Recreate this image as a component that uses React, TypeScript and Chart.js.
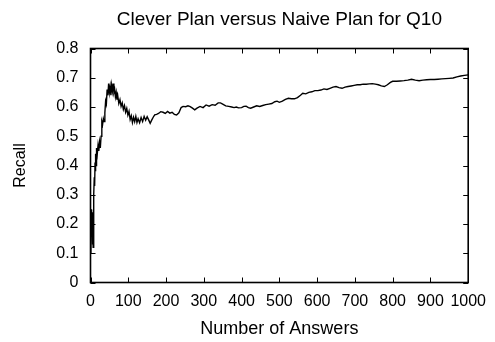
import React, { useEffect, useRef } from "react";
import { Chart, registerables } from "chart.js";

Chart.register(...registerables);

const chartTitle = "Clever Plan versus Naive Plan for Q10";
const xAxisTitle = "Number of Answers";
const yAxisTitle = "Recall";

const answers = [
  1, 2, 3, 4, 5, 6, 7, 8, 9, 10, 11, 12, 13, 14, 15, 16, 18, 20, 22, 24, 26, 28, 30, 32, 34, 36, 38, 40,
  42, 44, 46, 48, 50, 52, 54, 56, 58, 60, 62, 64, 66, 68, 70, 72, 75, 78, 81, 84, 87, 90, 93, 96, 99,
  102, 105, 108, 111, 114, 117, 120, 123, 126, 130, 134, 138, 142, 146, 150, 154, 158, 162, 166, 170,
  175, 180, 186, 192, 198, 204, 210, 216, 222, 228, 234, 240, 245, 252, 258, 264, 270, 276, 282, 290,
  298, 306, 314, 322, 330, 338, 344, 350, 358, 366, 374, 380, 386, 392, 400, 406, 412, 418, 424, 432,
  440, 448, 456, 464, 472, 480, 488, 494, 500, 508, 516, 524, 532, 540, 548, 556, 562, 570, 578, 586,
  594, 602, 610, 618, 626, 634, 642, 650, 658, 666, 674, 682, 690, 698, 706, 714, 722, 730, 738, 746,
  754, 762, 770, 778, 786, 794, 800, 810, 820, 830, 840, 850, 860, 870, 880, 890, 900, 910, 920, 930,
  940, 950, 960, 970, 980, 990, 1000,
];

const recall = [
  0.1, 0.25, 0.2, 0.24, 0.13, 0.2, 0.12, 0.25, 0.3, 0.36, 0.33, 0.41, 0.38, 0.44, 0.4, 0.46, 0.44, 0.47,
  0.45, 0.48, 0.46, 0.5, 0.55, 0.54, 0.56, 0.55, 0.58, 0.62, 0.61, 0.66, 0.64, 0.68, 0.65, 0.67, 0.64,
  0.675, 0.655, 0.68, 0.65, 0.66, 0.635, 0.65, 0.625, 0.64, 0.612, 0.625, 0.602, 0.614, 0.592, 0.605, 0.582,
  0.595, 0.572, 0.585, 0.557, 0.57, 0.547, 0.565, 0.55, 0.568, 0.547, 0.56, 0.546, 0.564, 0.55, 0.568,
  0.555, 0.567, 0.556, 0.544, 0.555, 0.565, 0.573, 0.575, 0.578, 0.584, 0.582, 0.578, 0.585, 0.579,
  0.582, 0.575, 0.573, 0.58, 0.598, 0.602, 0.601, 0.604, 0.601, 0.596, 0.59, 0.596, 0.602, 0.598, 0.607,
  0.603, 0.608, 0.606, 0.614, 0.614, 0.61, 0.604, 0.602, 0.6, 0.598, 0.6, 0.597, 0.598, 0.602, 0.603,
  0.598, 0.596, 0.6, 0.604, 0.602, 0.605, 0.608, 0.61, 0.612, 0.618, 0.62, 0.616, 0.62, 0.626, 0.63,
  0.628, 0.628, 0.632, 0.64, 0.647, 0.645, 0.65, 0.652, 0.656, 0.656, 0.658, 0.662, 0.66, 0.664, 0.668,
  0.67, 0.666, 0.664, 0.668, 0.67, 0.672, 0.674, 0.676, 0.676, 0.678, 0.678, 0.679, 0.68, 0.678, 0.676,
  0.672, 0.67, 0.676, 0.684, 0.688, 0.688, 0.689, 0.69, 0.692, 0.695, 0.692, 0.69, 0.692, 0.693, 0.694,
  0.694, 0.695, 0.696, 0.697, 0.698, 0.699, 0.703, 0.706, 0.708, 0.71,
];

const xTicks = [0, 100, 200, 300, 400, 500, 600, 700, 800, 900, 1000];
const xTickLabels = ["0", "100", "200", "300", "400", "500", "600", "700", "800", "900", "1000"];
const yTicks = [0, 0.1, 0.2, 0.3, 0.4, 0.5, 0.6, 0.7, 0.8];
const yTickLabels = ["0", "0.1", "0.2", "0.3", "0.4", "0.5", "0.6", "0.7", "0.8"];

const FONT = "'Liberation Sans', Arial, Helvetica, sans-serif";

const framePlugin = {
  id: "gnuplotFrame",
  afterDatasetsDraw(chart: any) {
    const { ctx, chartArea: a, scales } = chart;
    const xs = scales.x;
    const ys = scales.y;
    const tick = 5;
    ctx.save();
    ctx.strokeStyle = "#000";
    ctx.lineWidth = 1;
    ctx.beginPath();
    xTicks.forEach((v) => {
      const px = Math.round(xs.getPixelForValue(v)) + 0.5;
      ctx.moveTo(px, a.bottom);
      ctx.lineTo(px, a.bottom - tick);
      ctx.moveTo(px, a.top);
      ctx.lineTo(px, a.top + tick);
    });
    yTicks.forEach((v) => {
      const py = Math.round(ys.getPixelForValue(v)) + 0.5;
      ctx.moveTo(a.left, py);
      ctx.lineTo(a.left + tick, py);
      ctx.moveTo(a.right, py);
      ctx.lineTo(a.right - tick, py);
    });
    ctx.stroke();
    ctx.lineWidth = 1.6;
    ctx.strokeRect(a.left, a.top, a.right - a.left, a.bottom - a.top);
    ctx.restore();
  },
};

export default function App() {
  const ref = useRef<HTMLCanvasElement | null>(null);

  useEffect(() => {
    if (!ref.current) return;
    const points = answers.map((x, i) => ({ x, y: recall[i] }));
    const chart = new Chart(ref.current, {
      type: "line",
      data: {
        datasets: [
          {
            data: points,
            borderColor: "#000",
            borderWidth: 1.4,
            pointRadius: 0,
            tension: 0,
            fill: false,
          },
        ],
      },
      options: {
        animation: false,
        responsive: false,
        layout: { padding: { left: 0, right: 26, top: 0, bottom: 0 } },
        plugins: {
          legend: { display: false },
          tooltip: { enabled: false },
          title: {
            display: true,
            text: chartTitle,
            fullSize: false,
            color: "#000",
            font: { family: FONT, size: 19, weight: "normal" },
            padding: { top: 8.5, bottom: 17.2 },
          },
        },
        scales: {
          x: {
            type: "linear",
            min: 0,
            max: 1000,
            afterBuildTicks: (s: any) => {
              s.ticks = xTicks.map((v) => ({ value: v }));
            },
            afterFit: (s: any) => {
              s.height = 59.5;
            },
            grid: { display: false, drawTicks: false },
            border: { display: false },
            ticks: {
              autoSkip: false,
              maxRotation: 0,
              minRotation: 0,
              padding: 9,
              color: "#000",
              font: { family: FONT, size: 16 },
              callback: (v: any) => {
                const i = xTicks.indexOf(Number(v));
                return i >= 0 ? xTickLabels[i] : "";
              },
            },
            title: {
              display: true,
              text: xAxisTitle,
              color: "#000",
              font: { family: FONT, size: 18 },
              padding: { top: 2.4, bottom: 2.4 },
            },
          },
          y: {
            type: "linear",
            min: 0,
            max: 0.8,
            afterBuildTicks: (s: any) => {
              s.ticks = yTicks.map((v) => ({ value: v }));
            },
            afterFit: (s: any) => {
              s.width = 90.5;
            },
            grid: { display: false, drawTicks: false },
            border: { display: false },
            ticks: {
              padding: 12,
              color: "#000",
              font: { family: FONT, size: 16 },
              callback: (v: any) => {
                const i = yTicks.findIndex((t) => Math.abs(t - Number(v)) < 1e-9);
                return i >= 0 ? yTickLabels[i] : "";
              },
            },
            title: {
              display: true,
              text: yAxisTitle,
              color: "#000",
              font: { family: FONT, size: 16 },
              padding: { top: 11, bottom: 11 },
            },
          },
        },
      },
      plugins: [framePlugin],
    });
    return () => chart.destroy();
  }, []);

  return (
    <div style={{ position: "absolute", left: 0, top: 0, width: 495, height: 342, background: "#fff" }}>
      <canvas ref={ref} width={495} height={342} style={{ display: "block", width: 495, height: 342 }} />
    </div>
  );
}
